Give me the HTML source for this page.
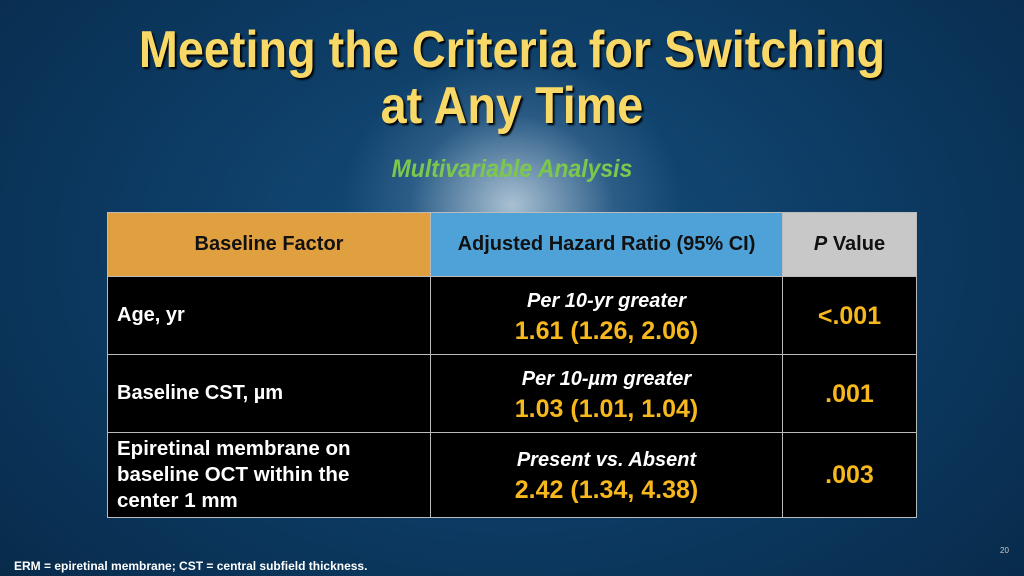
<!DOCTYPE html>
<html><head><meta charset="utf-8"><style>
*{margin:0;padding:0;box-sizing:border-box}
body{width:1024px;height:576px;overflow:hidden;position:relative;font-family:"Liberation Sans",sans-serif;
background:radial-gradient(ellipse 170px 150px at 512px 205px,rgba(195,212,225,0.85),rgba(90,130,170,0.35) 60%,rgba(0,0,0,0) 100%),radial-gradient(ellipse 700px 500px at 512px 250px,#15507e,#0c3a62 55%,#082a4a 100%);}
.t{position:absolute;left:0;width:1024px;text-align:center;color:#f8d866;font-weight:bold;font-size:52px;text-shadow:2px 2px 2px #000;transform:scaleX(0.9)}
.sub{position:absolute;left:0;width:1024px;text-align:center;top:155px;color:#7cc84e;font-weight:bold;font-style:italic;font-size:25px;transform:scaleX(0.92)}
table{position:absolute;left:107px;top:212px;width:810px;border-collapse:collapse}
td{border:1.5px solid #bbb;color:#fff;font-weight:bold;font-size:20px;vertical-align:middle}
.h td{height:64px;text-align:center;color:#111}
.l{padding-left:9px;text-align:left}
.c{text-align:center;line-height:30px}
.i{font-style:italic;font-size:20px}
.y{color:#f6b81c;font-size:25px}
.foot{position:absolute;left:14px;top:559px;color:#fff;font-size:12px;font-weight:bold}
.pg{position:absolute;left:1000px;top:546px;color:#ccc;font-size:8px}
</style></head><body>
<div class="t" style="top:20px">Meeting the Criteria for Switching</div>
<div class="t" style="top:76px">at Any Time</div>
<div class="sub">Multivariable Analysis</div>
<table>
<tr class="h">
<td style="width:323px;background:#e0a040">Baseline Factor</td>
<td style="width:352px;background:#4ea2d8">Adjusted Hazard Ratio (95% CI)</td>
<td style="background:#c8c8c8"><i>P</i> Value</td></tr>
<tr style="height:78px;background:#000">
<td class="l">Age, yr</td>
<td class="c"><div class="i">Per 10-yr greater</div><div class="y">1.61 (1.26, 2.06)</div></td>
<td class="c y">&lt;.001</td></tr>
<tr style="height:78px;background:#000">
<td class="l">Baseline CST, µm</td>
<td class="c"><div class="i">Per 10-µm greater</div><div class="y">1.03 (1.01, 1.04)</div></td>
<td class="c y">.001</td></tr>
<tr style="height:85px;background:#000">
<td class="l" style="line-height:26px;font-size:20.5px">Epiretinal membrane on<br>baseline OCT within the<br>center 1 mm</td>
<td class="c"><div class="i">Present vs. Absent</div><div class="y">2.42 (1.34, 4.38)</div></td>
<td class="c y">.003</td></tr>
</table>
<div class="foot">ERM = epiretinal membrane; CST = central subfield thickness.</div>
<div class="pg">20</div>
</body></html>
